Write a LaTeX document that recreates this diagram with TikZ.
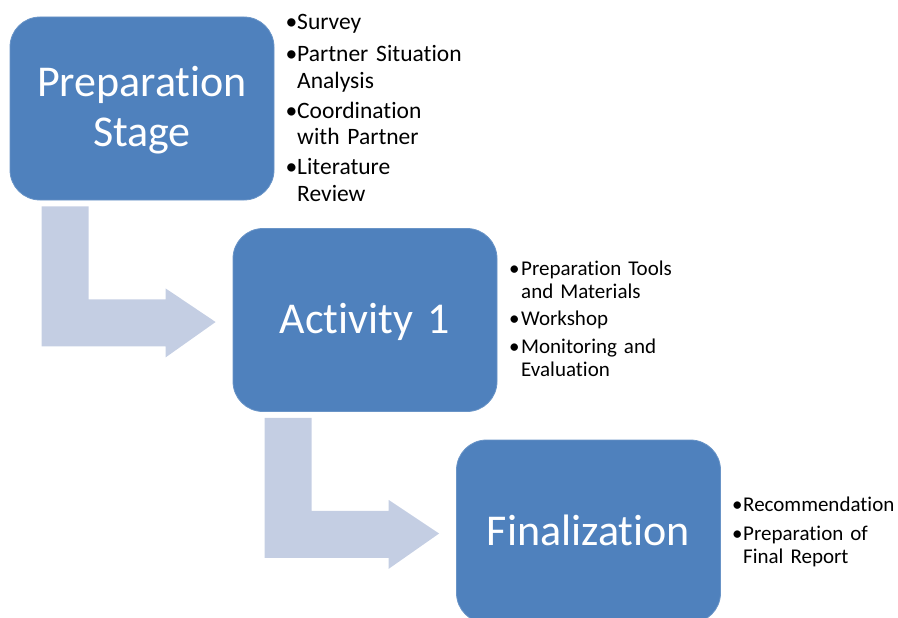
\documentclass[tikz,border=0pt]{standalone}
\usepackage{fontspec}
\setmainfont{Carlito}[Ligatures={NoCommon,NoContextual}]
\usetikzlibrary{calc}
\definecolor{stageblue}{HTML}{4F81BD}
\definecolor{flowgrey}{HTML}{C4CEE3}
% bullet of a given width, and the matching indent for follow-on lines
\newcommand{\bul}[1]{\makebox[#1][l]{•}}
\newcommand{\ind}[1]{\hspace*{#1}}
\begin{document}
\begin{tikzpicture}[x=1pt,y=-1pt,
  stage/.style={fill=stageblue, draw=stageblue!85!white, line width=0.8pt,
    rounded corners=30pt, minimum width=264pt, minimum height=183pt,
    inner sep=0pt},
  stagetext/.style={anchor=base, text width=264pt, align=center, inner sep=0pt,
    text=white, font=\fontsize{44}{50}\selectfont},
  bigitem/.style={anchor=base west, align=left, text width=220pt, inner sep=0pt,
    font=\fontsize{23.5}{27}\selectfont},
  smallitem/.style={anchor=base west, align=left, text width=200pt, inner sep=0pt,
    font=\fontsize{21}{23}\selectfont},
  bent/.style={fill=flowgrey}]
\useasboundingbox (0,0) rectangle (898,618);

% three stages
\node[stage] (prep) at (142,108.5) {};
\node[stage] (act)  at (365,320)   {};
\node[stage] (fin)  at (588.5,531.5) {};
\node[stagetext] (preptext) at ($(prep.center)+(0,-11.5)$) {Preparation\\Stage};
\node[stagetext] (acttext)  at ($(act.center)+(0,13)$) {Activity 1};
\node[stagetext] (fintext)  at ($(fin.center)+(0,13.5)$) {Finalization};

% bent arrows leading from one stage to the next
\fill[bent] ($(prep.south west)+(32,6)$) -- ($(prep.south west)+(79,6)$)
  -- ($(prep.south west)+(79,99)$) -- ($(prep.south west)+(156,99)$)
  -- ($(prep.south west)+(156,88)$) -- ($(act.west)+(-17,2)$)
  -- ($(prep.south west)+(156,157)$) -- ($(prep.south west)+(156,146)$)
  -- ($(prep.south west)+(32,146)$) -- cycle;
\fill[bent] ($(act.south west)+(32,6)$) -- ($(act.south west)+(79,6)$)
  -- ($(act.south west)+(79,99)$) -- ($(act.south west)+(156,99)$)
  -- ($(act.south west)+(156,88)$) -- ($(fin.west)+(-17,2)$)
  -- ($(act.south west)+(156,157)$) -- ($(act.south west)+(156,146)$)
  -- ($(act.south west)+(32,146)$) -- cycle;

% tasks of the preparation stage
\node[bigitem] (p1) at (285.5,30)  {\bul{11.5pt}Survey};
\node[bigitem] (p2) at (285.5,62)  {\bul{11.5pt}Partner Situation\\\ind{11.5pt}Analysis};
\node[bigitem] (p3) at (285.5,118) {\bul{11.5pt}Coordination\\\ind{11.5pt}with Partner};
\node[bigitem] (p4) at (285.5,175) {\bul{11.5pt}Literature\\\ind{11.5pt}Review};

% tasks of activity 1
\node[smallitem] (a1) at (509,275) {\bul{12pt}Preparation Tools\\\ind{12pt}and Materials};
\node[smallitem] (a2) at (509,325) {\bul{12pt}Workshop};
\node[smallitem] (a3) at (509,353) {\bul{12pt}Monitoring and\\\ind{12pt}Evaluation};

% tasks of the finalization
\node[smallitem] (f1) at (732,511) {\bul{11pt}Recommendation};
\node[smallitem] (f2) at (732,540) {\bul{11pt}Preparation of\\\ind{11pt}Final Report};
\end{tikzpicture}
\end{document}
